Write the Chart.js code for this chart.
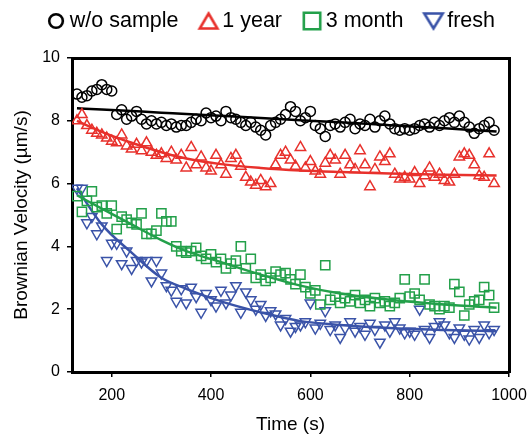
<!DOCTYPE html>
<html>
<head>
<meta charset="utf-8">
<script src="https://cdn.jsdelivr.net/npm/chart.js@4.4.1/dist/chart.umd.min.js"></script>
<style>
  html, body { margin: 0; padding: 0; background: #fff; }
  #wrap { width: 528px; height: 435px; }
</style>
</head>
<body>
<div id="wrap"><canvas id="myChart"></canvas></div>
<script>
// sample times (s)
const times = [
    130, 140, 150, 160, 170, 180, 190, 200, 210, 220, 230, 240, 250, 260, 270, 280, 290,
    300, 310, 320, 330, 340, 350, 360, 370, 380, 390, 400, 410, 420, 430, 440, 450, 460,
    470, 480, 490, 500, 510, 520, 530, 540, 550, 560, 570, 580, 590, 600, 610, 620, 630,
    640, 650, 660, 670, 680, 690, 700, 710, 720, 730, 740, 750, 760, 770, 780, 790, 800,
    810, 820, 830, 840, 850, 860, 870, 880, 890, 900, 910, 920, 930, 940, 950, 960, 970
];

const woSample = [
    8.85, 8.75, 8.8, 8.95, 9.0, 9.15, 9.0, 8.95,
    8.2, 8.35, 8.05, 8.15, 8.3, 8.05, 7.9, 8.0, 7.9, 7.95, 7.85, 7.9, 7.8, 7.85, 7.85,
    7.95, 8.05, 8.0, 8.25, 8.1, 8.15, 8.0, 8.3, 8.1, 8.05, 7.95, 7.85, 7.95, 7.8, 7.7, 7.55, 7.85, 7.95, 8.05, 8.2, 8.45, 8.3,
    8.0, 8.1, 8.3, 7.85, 7.75, 7.5, 7.85, 7.9, 7.8, 7.95, 8.05, 7.75, 7.9, 7.85, 8.05, 7.8, 8.0, 8.15, 7.9, 7.75, 7.7, 7.75,
    7.7, 7.75, 7.85, 7.9, 7.8, 7.95, 7.85, 8.0, 8.1, 7.95, 8.15, 7.95, 7.8, 7.6, 7.75, 7.85, 7.95, 7.7
];

const oneYear = [
    8.0, 8.2, 7.85, 7.7, 7.6, 7.55, 7.45, 7.35, 7.3, 7.55, 7.2, 7.1, 7.25, 7.05, 7.3, 7.0, 6.9, 6.95, 6.8, 7.0, 6.75, 6.9, 6.5,
    7.15, 6.6, 6.85, 6.5, 6.4, 6.9, 6.6, 6.3, 6.8, 6.9, 6.55, 6.2, 6.05, 5.95, 6.1, 5.9, 6.0, 6.6, 6.9, 7.0, 6.75, 6.55,
    7.15, 6.5, 6.7, 6.4, 6.3, 6.65, 6.9, 6.75, 6.3, 6.9, 6.6, 6.45, 7.05, 6.6, 5.9, 6.45, 6.85, 6.7, 6.95, 6.3, 6.15, 6.2,
    6.15, 6.35, 6.0, 6.25, 6.5, 6.2, 6.3, 6.1, 6.05, 6.3, 6.85, 6.95, 6.9, 6.6, 6.25, 6.2, 6.95, 6.0
];

const threeMonth = [
    5.6, 5.1, 5.45, 5.75, 5.25, 5.3, 5.05, 5.3, 4.55, 4.95, 4.85, 4.75, 4.7, 5.05, 4.4, 4.4, 4.5, 5.05, 4.8, 4.8, 4.0, 3.85, 3.8,
    3.85, 3.95, 3.7, 3.6, 3.75, 3.5, 3.6, 3.3, 3.45, 3.55, 4.0, 3.3, 3.6, 3.0, 3.1, 2.9, 3.0, 3.2, 3.1, 3.15, 2.95, 2.8,
    3.1, 2.7, 2.5, 2.6, 2.15, 3.4, 2.3, 2.4, 2.2, 2.35, 2.25, 2.45, 2.2, 2.3, 2.1, 2.35, 2.2, 2.25, 2.1, 2.2, 2.35, 2.95,
    2.4, 2.5, 2.3, 2.95, 2.15, 2.1, 2.0, 2.1, 2.05, 2.8, 2.55, 1.8, 2.15, 2.25, 2.3, 2.7, 2.45, 2.05
];

const fresh = [
    5.85, 5.85, 4.75, 4.95, 4.4, 4.65, 3.55, 4.1, 4.1, 3.45, 3.85, 3.3, 3.55, 3.5, 3.55, 2.9, 3.55, 3.15, 2.75, 2.6, 2.25, 2.65, 2.2,
    2.7, 2.4, 1.9, 2.5, 2.3, 2.1, 2.6, 2.2, 2.45, 2.75, 1.9, 2.55, 2.3, 2.0, 2.15, 1.8, 1.95, 1.85, 1.5, 1.7, 1.3, 1.45,
    1.5, 1.6, 2.2, 1.4, 1.55, 1.95, 1.35, 1.5, 1.1, 1.4, 1.6, 1.3, 1.45, 1.2, 1.55, 1.35, 0.95, 1.5, 1.3, 1.6, 1.4, 1.25,
    1.3, 1.2, 2.0, 1.35, 1.1, 1.45, 1.6, 1.5, 1.25, 1.1, 1.4, 1.2, 1.05, 1.35, 1.1, 1.5, 1.25, 1.35
];

// fitted trend lines
const fitTimes = [130, 180, 240, 300, 350, 420, 500, 580, 660, 760, 870, 975];
const fitWoSample = [8.4, 8.36, 8.31, 8.26, 8.22, 8.16, 8.09, 8.02, 7.95, 7.86, 7.76, 7.66];
const fitOneYear = [8.0, 7.65, 7.3, 7.0, 6.8, 6.62, 6.5, 6.42, 6.37, 6.32, 6.28, 6.26];
const fitThreeMonth = [5.63, 5.2, 4.7, 4.2, 3.85, 3.5, 3.1, 2.75, 2.5, 2.3, 2.15, 2.05];
const fitFresh = [5.85, 4.7, 3.8, 3.0, 2.65, 2.25, 1.9, 1.62, 1.5, 1.4, 1.34, 1.3];

const xTicks = [200, 400, 600, 800, 1000];
const yTicks = [0, 2, 4, 6, 8, 10];

const BLACK = '#000000';
const RED = '#e8312c';
const GREEN = '#23a04a';
const BLUE = '#3a53a8';
const FONT = '"Liberation Sans", Arial, sans-serif';

const pts = (ys) => ys.map((y, i) => ({ x: times[i], y: y }));
const fit = (ys) => ys.map((y, i) => ({ x: fitTimes[i], y: y }));

// legend symbols are a bit bigger and bolder than the plot markers
function legendIcon(kind, color) {
    const c = document.createElement('canvas');
    c.width = 26;
    c.height = 26;
    const g = c.getContext('2d');
    g.strokeStyle = color;
    g.lineWidth = 2.6;
    g.lineJoin = 'miter';
    g.beginPath();
    if (kind === 'circle') {
        g.arc(13, 13, 6.8, 0, Math.PI * 2);
    } else if (kind === 'up') {
        g.moveTo(13, 5.5); g.lineTo(21.8, 20.5); g.lineTo(4.2, 20.5); g.closePath();
    } else if (kind === 'down') {
        g.moveTo(3.8, 5.5); g.lineTo(22.2, 5.5); g.lineTo(13, 20.5); g.closePath();
    } else {
        g.rect(4.8, 4.8, 16.4, 16.4);
    }
    g.stroke();
    return c;
}

const legendIcons = [
    legendIcon('circle', BLACK),
    legendIcon('up', RED),
    legendIcon('square', GREEN),
    legendIcon('down', BLUE)
];

function markerSet(label, ys, color, style, radius, rotation) {
    return {
        label: label,
        data: pts(ys),
        showLine: false,
        pointStyle: style,
        pointRotation: rotation || 0,
        pointRadius: radius,
        pointBorderWidth: 1.5,
        borderColor: color,
        backgroundColor: 'rgba(0,0,0,0)',
        pointBackgroundColor: 'rgba(0,0,0,0)',
        pointBorderColor: color,
    };
}

function fitSet(ys, color) {
    return {
        label: '',
        data: fit(ys),
        showLine: true,
        fill: false,
        pointRadius: 0,
        borderWidth: 2.5,
        borderColor: color,
        tension: 0.4,
        cubicInterpolationMode: 'monotone',
        isFit: true,
    };
}

const data = {
    datasets: [
        markerSet('w/o sample', woSample, BLACK, 'circle', 5),
        markerSet('1 year', oneYear, RED, 'triangle', 6),
        markerSet('3 month', threeMonth, GREEN, 'rect', 6.5),
        markerSet('fresh', fresh, BLUE, 'triangle', 6, 180),
        fitSet(fitWoSample, BLACK),
        fitSet(fitOneYear, RED),
        fitSet(fitThreeMonth, GREEN),
        fitSet(fitFresh, BLUE),
    ]
};

const tickFont = { family: FONT, size: 16 };
const titleFont = { family: FONT, size: 19, lineHeight: 1 };

const config = {
    type: 'scatter',
    data,
    options: {
        responsive: true,
        maintainAspectRatio: false,
        animation: false,
        // negative top/right pull the legend row up and to the right like the original
        layout: { padding: { top: -16.75, right: -10, bottom: 0, left: 10 } },
        plugins: {
            tooltip: { enabled: false },
            legend: {
                display: true,
                position: 'top',
                labels: {
                    usePointStyle: true,
                    boxWidth: 6,
                    boxHeight: 12,
                    padding: 27,
                    color: '#000',
                    font: { family: FONT, size: 21.5 },
                    filter: (item, chartData) => !chartData.datasets[item.datasetIndex].isFit,
                    generateLabels: (chart) => {
                        const items = Chart.defaults.plugins.legend.labels.generateLabels(chart);
                        items.forEach(it => {
                            if (legendIcons[it.datasetIndex]) {
                                it.pointStyle = legendIcons[it.datasetIndex];
                                it.rotation = 0;
                            }
                        });
                        return items;
                    },
                },
            },
        },
        scales: {
            x: {
                type: 'linear',
                position: 'bottom',
                min: 120,
                max: 1000,
                afterBuildTicks: (scale) => { scale.ticks = xTicks.map(v => ({ value: v })); },
                afterFit: (scale) => {
                    scale.height = 63;
                    scale.paddingLeft = 0;
                    scale.paddingRight = 0;
                },
                ticks: { color: '#000', font: tickFont, padding: 9.4, maxRotation: 0, callback: (v) => String(v) },
                grid: { drawOnChartArea: false, drawTicks: true, tickLength: 5, color: '#000', lineWidth: 1.5 },
                border: { display: true, color: '#000', width: 3 },
                title: { display: true, text: 'Time (s)', color: '#000', font: titleFont, padding: { top: 0, bottom: 0.5 } },
            },
            y: {
                type: 'linear',
                position: 'left',
                min: 0,
                max: 10,
                afterBuildTicks: (scale) => { scale.ticks = yTicks.map(v => ({ value: v })); },
                afterFit: (scale) => { scale.width = 62; },
                ticks: { color: '#000', font: tickFont, padding: 7 },
                grid: { drawOnChartArea: false, drawTicks: true, tickLength: 5, color: '#000', lineWidth: 1.5 },
                border: { display: true, color: '#000', width: 3 },
                title: { display: true, text: 'Brownian Velocity (µm/s)', color: '#000', font: titleFont, padding: { top: 2, bottom: 0 } },
            },
            // plain frame on the top and right sides
            xTop: {
                type: 'linear',
                position: 'top',
                afterFit: (scale) => { scale.height = 16.25; },
                ticks: { display: false },
                grid: { display: true, drawOnChartArea: false, drawTicks: false, color: 'rgba(0,0,0,0)' },
                border: { display: true, color: '#000', width: 3 },
            },
            yRight: {
                type: 'linear',
                position: 'right',
                afterFit: (scale) => { scale.width = 29; },
                ticks: { display: false },
                grid: { display: true, drawOnChartArea: false, drawTicks: false, color: 'rgba(0,0,0,0)' },
                border: { display: true, color: '#000', width: 3 },
            },
        },
    },
};

var myChart = new Chart(document.getElementById('myChart'), config);
</script>
</body>
</html>
